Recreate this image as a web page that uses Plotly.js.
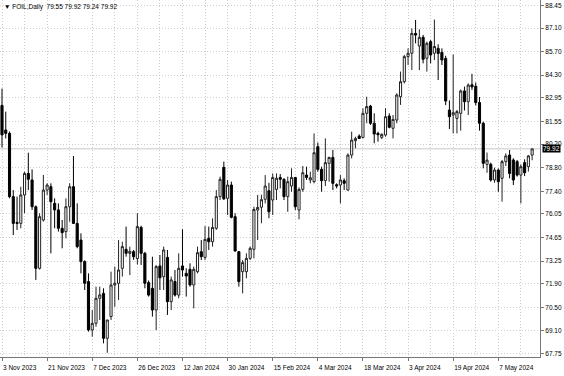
<!DOCTYPE html>
<html>
<head>
<meta charset="utf-8">
<script src="https://cdn.plot.ly/plotly-3.0.1.min.js"></script>
<style>html,body{margin:0;padding:0;background:#fff;}#chart{width:564px;height:376px;}</style>
</head>
<body>
<div id="chart"></div>
<script>
var openP = [82.50,81.04,80.84,77.08,75.55,75.49,77.18,78.46,78.07,76.48,
72.82,75.69,77.47,77.67,76.68,76.29,75.20,75.00,76.48,77.67,
75.49,74.50,73.22,72.03,69.16,69.55,71.04,71.33,68.66,69.95,
71.83,71.93,72.82,73.95,73.71,73.81,73.40,75.25,73.71,71.97,
71.63,70.34,72.96,72.32,73.47,70.84,72.03,71.23,72.96,72.52,
72.76,71.83,72.62,73.81,73.47,74.60,74.40,75.20,77.08,78.82,
76.98,77.77,75.89,73.81,72.62,72.62,73.41,73.95,76.28,76.45,
76.92,77.43,76.88,77.51,78.22,78.11,77.08,77.71,78.22,76.28,
77.51,78.36,78.07,77.97,80.05,78.70,78.03,79.06,79.41,77.79,
77.77,78.03,77.47,79.55,80.40,80.68,80.60,82.03,82.46,81.44,
80.84,80.60,80.74,81.87,81.14,81.63,83.02,83.91,85.40,85.60,
86.78,86.03,86.55,85.30,86.29,85.60,85.89,85.65,85.29,82.23,
81.93,81.73,82.03,83.36,82.72,83.73,83.64,82.67,81.44,79.00,
79.00,78.07,78.66,78.17,79.16,79.55,79.26,79.16,78.36,79.10,
78.86,79.55];
var highP = [83.50,82.13,80.95,77.47,77.08,77.67,78.56,79.69,78.70,76.55,
76.09,78.37,77.87,77.87,76.98,76.68,75.69,76.98,77.87,79.49,
76.68,74.90,73.30,72.52,70.34,71.73,71.73,71.63,69.75,72.62,
72.92,74.50,74.40,75.30,74.11,73.91,76.09,75.35,73.80,72.10,
73.51,73.02,73.61,74.11,73.91,72.33,72.72,73.71,75.14,72.82,
73.12,72.92,74.11,74.50,75.33,75.30,75.79,77.47,78.27,79.16,
78.07,77.97,76.09,73.85,73.31,73.71,74.11,76.48,77.18,77.20,
78.36,77.90,78.46,78.46,78.42,78.17,78.27,78.76,78.25,77.63,
78.90,78.86,78.56,80.84,80.29,78.86,80.54,79.45,79.85,77.87,
78.36,78.17,79.65,80.94,80.64,80.78,82.33,83.02,82.53,82.03,
80.94,80.84,82.33,82.03,81.93,83.22,84.51,85.50,85.89,87.08,
87.58,87.02,86.69,86.29,86.39,87.60,86.13,85.89,85.45,82.80,
85.53,82.23,83.45,83.62,83.81,84.38,83.86,83.00,81.53,79.70,
79.10,78.80,78.75,79.26,79.65,79.85,79.36,79.26,79.00,79.30,
79.55,79.92];
var lowP = [80.00,80.54,76.98,74.80,75.10,75.20,76.09,77.47,76.29,72.13,
72.75,75.60,77.18,73.71,75.20,75.00,74.01,74.60,75.59,75.45,
74.01,72.52,71.53,69.06,68.76,69.35,69.75,68.36,67.80,69.75,
70.54,70.94,72.33,73.51,72.42,73.32,73.05,73.02,71.63,71.14,
69.95,69.15,71.53,71.53,70.05,70.34,71.14,71.04,72.33,71.14,
71.73,70.44,72.52,73.31,73.31,73.91,74.11,75.10,76.88,76.88,
75.99,75.79,73.81,71.73,71.33,72.23,73.31,73.41,74.50,75.50,
76.68,75.80,75.99,76.88,77.57,76.88,76.18,77.37,76.28,75.73,
77.37,78.07,77.87,77.87,78.56,77.37,77.71,77.97,77.47,77.57,
76.68,77.47,77.43,79.35,79.95,80.50,80.54,81.44,81.34,80.25,
80.35,80.50,80.64,81.14,80.54,81.44,82.53,83.81,84.90,84.60,
86.19,84.60,85.00,84.51,85.00,85.20,84.01,84.90,82.52,81.10,
80.84,80.84,81.00,82.20,81.93,83.42,82.50,81.00,78.76,78.50,
77.97,77.90,77.37,76.78,78.90,78.17,77.77,78.27,76.68,78.30,
78.57,79.24];
var closeP = [80.75,80.84,77.08,75.49,75.49,77.18,78.46,78.11,76.48,72.82,
75.89,77.47,77.77,76.78,76.29,75.20,74.94,76.48,77.67,75.49,
74.11,73.22,71.93,69.16,69.55,71.04,71.24,68.66,69.75,71.83,
71.93,72.72,74.11,73.71,73.83,73.51,75.30,73.71,71.93,71.23,
70.34,72.92,72.26,73.91,70.84,72.13,71.23,72.82,72.72,72.36,
71.83,72.76,73.75,73.51,74.54,74.40,75.25,77.08,78.11,76.95,
77.77,75.85,73.85,72.03,73.16,73.41,74.01,76.32,76.44,76.90,
77.71,76.18,78.22,78.17,78.11,77.08,77.97,78.22,76.48,77.51,
78.50,78.22,78.20,79.69,78.70,78.03,79.10,79.41,77.87,77.71,
78.07,77.87,79.55,80.44,80.54,80.54,82.03,82.43,81.44,80.80,
80.76,80.78,81.83,81.20,81.67,83.12,83.91,85.40,85.60,86.78,
86.68,86.55,85.24,86.19,85.50,86.00,85.59,85.20,82.76,81.83,
82.07,82.13,83.36,82.72,83.71,83.60,82.67,81.44,79.06,79.25,
78.07,78.66,77.97,79.16,79.50,78.46,78.07,78.36,78.86,78.50,
79.50,79.92];

var xTickIdx = [0,12,24,36,48,60,72,84,96,108,120,132];
var xTickLabels = ['3 Nov 2023','21 Nov 2023','7 Dec 2023','26 Dec 2023','12 Jan 2024','30 Jan 2024',
  '15 Feb 2024','4 Mar 2024','18 Mar 2024','3 Apr 2024','19 Apr 2024','7 May 2024'];
var yTickLabels = ['67.75','69.10','70.50','71.90','73.25','74.65','76.05','77.40',
  '78.80','80.20','81.55','82.95','84.30','85.70','87.10','88.45'];
var symbolName = 'FOIL,Daily';
var lastPrice = 79.92;

var barIdx = openP.map(function(_, i){ return i; });
var FONT = 'Liberation Sans, Arial, sans-serif';
var GRID = '#cdcdcd';
var GDASH = '1px,2px';
var AX = '#777';

var trace = {
  type: 'candlestick',
  x: barIdx, open: openP, high: highP, low: lowP, close: closeP,
  increasing: {line: {color: '#222', width: 1}, fillcolor: '#fff'},
  decreasing: {line: {color: '#000', width: 1}, fillcolor: '#000'},
  whiskerwidth: 0,
  hoverinfo: 'none',
  showlegend: false
};

var lastIdx = openP.length - 1;
var legendText = '\u25BC ' + symbolName + '  ' + openP[lastIdx].toFixed(2) + ' ' + highP[lastIdx].toFixed(2) + ' ' +
  lowP[lastIdx].toFixed(2) + ' ' + closeP[lastIdx].toFixed(2);

var layout = {
  width: 564, height: 376,
  margin: {l: 0, r: 24, t: 0, b: 19, pad: 0},
  paper_bgcolor: '#fff', plot_bgcolor: '#fff',
  showlegend: false,
  boxgap: 0.2,
  font: {family: FONT, size: 6.5, color: '#000'},
  xaxis: {
    range: [-0.532, 143.09],
    rangeslider: {visible: false},
    tickmode: 'array', tickvals: xTickIdx, ticktext: xTickLabels,
    tickangle: 0,
    ticks: 'outside', ticklen: 3, tickcolor: AX, tickwidth: 1,
    ticklabelposition: 'outside right',
    ticklabelstandoff: 4,
    tickfont: {family: FONT, size: 6.5, color: '#000'},
    showgrid: true, gridcolor: GRID, griddash: GDASH, gridwidth: 1,
    minor: {tickmode: 'linear', tick0: 0, dtick: 6, showgrid: true, gridcolor: GRID, griddash: GDASH, gridwidth: 1, ticks: ''},
    showline: true, linecolor: AX, linewidth: 1, mirror: false,
    zeroline: false, fixedrange: true
  },
  yaxis: {
    side: 'right',
    range: [67.55, 88.765],
    tickmode: 'array', tickvals: yTickLabels.map(Number), ticktext: yTickLabels,
    ticks: 'outside', ticklen: 3, tickcolor: AX, tickwidth: 1,
    tickfont: {family: FONT, size: 6.5, color: '#000'},
    showgrid: true, gridcolor: GRID, griddash: GDASH, gridwidth: 1,
    showline: true, linecolor: AX, linewidth: 1,
    zeroline: false, fixedrange: true
  },
  shapes: [{
    type: 'line', xref: 'paper', x0: 0, x1: 1, yref: 'y', y0: lastPrice, y1: lastPrice,
    line: {color: '#c8c8c8', width: 1}, layer: 'below'
  }],
  annotations: [
    {xref: 'paper', yref: 'paper', x: 0, y: 1, xanchor: 'left', yanchor: 'top', xshift: 2, yshift: -1,
     text: legendText, showarrow: false, font: {family: FONT, size: 6.5, color: '#000'}},
    {xref: 'paper', yref: 'y', x: 1, y: lastPrice, xanchor: 'left', yanchor: 'middle', xshift: 2,
     text: lastPrice.toFixed(2), showarrow: false, bgcolor: '#000', borderpad: 0,
     font: {family: FONT, size: 6.5, color: '#fff'}}
  ]
};

Plotly.newPlot('chart', [trace], layout, {staticPlot: true, displayModeBar: false});
</script>
</body>
</html>
